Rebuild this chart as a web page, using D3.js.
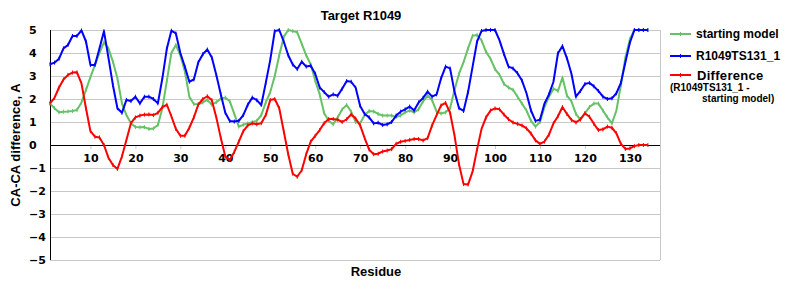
<!DOCTYPE html>
<html>
<head>
<meta charset="utf-8">
<script src="https://cdn.jsdelivr.net/npm/d3@7"></script>
<style>
  html, body { margin: 0; padding: 0; background: #fff; }
  svg { display: block; }
</style>
</head>
<body>
<svg id="chart" width="800" height="300"></svg>
<script>
const residues = d3.range(1, 135);
const startingModel = [
  1.81,1.6,1.42,1.45,1.46,1.48,1.52,1.85,2.4,2.95,
  3.48,4.0,4.46,4.2,3.62,2.9,1.81,1.3,0.95,0.78,
  0.77,0.78,0.7,0.72,0.87,1.6,2.8,4.0,4.35,3.9,
  3.2,2.1,1.78,1.77,1.85,1.96,1.75,1.86,2.02,2.06,
  1.9,1.35,0.8,0.88,0.94,0.99,1.05,1.3,1.85,2.3,
  3.0,3.9,4.7,5.0,4.95,4.9,4.4,3.9,3.5,2.8,
  2.2,1.38,1.05,0.9,1.2,1.55,1.74,1.45,1.0,0.95,
  1.3,1.48,1.46,1.35,1.28,1.28,1.28,1.22,1.28,1.42,
  1.5,1.42,1.55,1.9,2.15,1.95,1.45,1.37,1.42,1.6,
  2.4,3.1,3.6,4.2,4.75,4.78,4.55,4.05,3.75,3.3,
  3.05,2.65,2.5,2.4,2.1,1.8,1.5,1.05,0.8,1.0,
  1.65,2.1,2.45,2.35,2.93,2.15,1.9,1.35,1.09,1.38,
  1.65,1.8,1.8,1.5,1.2,0.94,1.5,2.6,3.8,4.6,
  5.0,5.0,5.0,5.0
];
const modelTS131 = [
  3.51,3.58,3.75,4.2,4.35,4.74,4.74,4.98,4.5,3.48,
  3.48,4.2,4.95,3.8,2.6,1.6,1.4,1.96,1.91,2.1,
  1.81,2.1,2.1,2.0,1.81,2.9,4.2,4.97,4.85,4.0,
  3.4,2.75,2.85,3.6,3.95,4.15,3.8,3.04,2.2,1.4,
  1.04,1.02,1.05,1.3,1.75,2.06,1.95,1.74,2.7,3.7,
  4.95,5.0,4.5,3.9,3.5,3.3,3.62,3.41,3.45,3.1,
  2.5,2.3,2.1,2.2,2.14,2.45,2.78,2.75,2.49,1.7,
  1.35,1.2,0.94,0.97,0.87,0.9,1.0,1.28,1.45,1.55,
  1.67,1.5,1.85,2.05,2.32,2.1,2.2,2.9,3.41,3.33,
  2.3,1.6,1.48,2.3,3.4,4.49,4.96,5.0,5.0,5.0,
  4.55,3.95,3.41,3.33,3.12,2.8,2.25,1.5,1.05,1.1,
  1.8,2.2,2.75,3.99,4.3,3.77,3.1,2.1,2.35,2.65,
  2.7,2.55,2.35,2.1,2.0,2.03,2.25,2.7,3.6,4.45,
  5.0,5.0,5.0,5.0
];
const difference = [
  1.81,2.05,2.5,2.85,3.05,3.15,3.16,2.68,1.6,0.6,
  0.36,0.33,0.0,-0.55,-0.87,-1.04,-0.5,0.22,0.95,1.2,
  1.28,1.32,1.33,1.3,1.4,1.65,1.75,1.25,0.7,0.4,
  0.4,0.75,1.2,1.76,2.0,2.12,1.95,1.2,0.3,-0.5,
  -0.65,-0.3,0.15,0.6,0.85,0.94,0.9,0.95,1.3,1.96,
  2.0,1.6,0.6,-0.4,-1.25,-1.38,-1.1,-0.4,0.15,0.4,
  0.65,0.95,1.13,1.13,1.1,1.0,1.12,1.33,1.15,0.85,
  0.3,-0.2,-0.4,-0.38,-0.28,-0.24,-0.18,0.05,0.14,0.18,
  0.22,0.26,0.26,0.2,0.3,0.85,1.3,1.72,1.83,1.4,
  0.4,-0.85,-1.7,-1.72,-1.16,-0.2,0.7,1.2,1.5,1.59,
  1.55,1.32,1.12,0.98,0.92,0.85,0.72,0.5,0.2,0.05,
  0.15,0.45,0.94,1.25,1.65,1.35,1.09,0.98,1.12,1.38,
  1.23,0.92,0.65,0.68,0.8,0.75,0.51,0.05,-0.17,-0.15,
  -0.05,0.0,0.0,0.0
];
const xTicks = [10,20,30,40,50,60,70,80,90,100,110,120,130];
const yTicks = [-5,-4,-3,-2,-1,0,1,2,3,4,5];
const seriesNames = ["starting model", "R1049TS131_1", "Difference"];
const seriesColors = ["#66c266", "#0000ff", "#ff0000"];
const titleText = "Target R1049";
const xTitle = "Residue";
const yTitle = "CA-CA difference, A";

const svg = d3.select("#chart");
const L = 50, R = 660, T = 30, B = 260;
const x = d3.scaleLinear().domain([1, 136.7]).range([L, R]);
const y = d3.scaleLinear().domain([-5, 5]).range([B, T]);

// gridlines
svg.append("g").selectAll("line").data(yTicks).join("line")
  .attr("x1", L).attr("x2", R)
  .attr("y1", d => y(d)).attr("y2", d => y(d))
  .attr("stroke", "#c8c8c8").attr("stroke-width", 1)
  .attr("shape-rendering", "crispEdges");
// right border
svg.append("line").attr("x1", R).attr("x2", R).attr("y1", T).attr("y2", B)
  .attr("stroke", "#c8c8c8").attr("shape-rendering", "crispEdges");

// y axis (line + left-aligned labels)
svg.append("line").attr("x1", L).attr("x2", L).attr("y1", T).attr("y2", B)
  .attr("stroke", "#000").attr("shape-rendering", "crispEdges");
svg.append("g").selectAll("text").data(yTicks).join("text")
  .attr("x", 29).attr("y", d => y(d)).attr("dy", "0.36em")
  .attr("font-family", "DejaVu Sans").attr("font-weight", "bold").attr("font-size", 11)
  .attr("text-anchor", "start")
  .text(d => d < 0 ? "\u2212" + Math.abs(d) : d);

// x axis at zero
const xAxis = d3.axisBottom(x).tickValues(xTicks).tickSize(4).tickPadding(5).tickFormat(d3.format("d"));
const gx = svg.append("g").attr("transform", `translate(0,${y(0)})`).call(xAxis);
gx.select(".domain").remove();
gx.selectAll(".tick line").attr("stroke", "#c8c8c8");
gx.selectAll(".tick text").attr("font-family", "DejaVu Sans").attr("font-weight", "bold")
  .attr("font-size", 11).attr("fill", "#000");
svg.append("line").attr("x1", L).attr("x2", R).attr("y1", y(0)).attr("y2", y(0))
  .attr("stroke", "#000").attr("shape-rendering", "crispEdges");

// lines
const allSeries = [startingModel, modelTS131, difference];
const lineGen = d3.line().x((d, i) => x(residues[i])).y(d => y(d));
allSeries.forEach((s, k) => {
  svg.append("path").datum(s)
    .attr("fill", "none").attr("stroke", seriesColors[k]).attr("stroke-width", 2)
    .attr("stroke-linejoin", "round").attr("d", lineGen);
  svg.append("g").selectAll("line").data(s).join("line")
    .attr("x1", (d, i) => x(residues[i])).attr("x2", (d, i) => x(residues[i]))
    .attr("y1", d => y(d) - 2).attr("y2", d => y(d) + 2)
    .attr("stroke", seriesColors[k]).attr("stroke-width", 1);
});

// titles
const font = "Liberation Sans, Arial, sans-serif";
svg.append("text").attr("x", 361).attr("y", 20).attr("text-anchor", "middle")
  .attr("font-family", font).attr("font-weight", "bold").attr("font-size", 13).text(titleText);
svg.append("text").attr("x", 376).attr("y", 276).attr("text-anchor", "middle")
  .attr("font-family", font).attr("font-weight", "bold").attr("font-size", 13).text(xTitle);
svg.append("text").attr("transform", "translate(20,145) rotate(-90)").attr("text-anchor", "middle")
  .attr("font-family", font).attr("font-weight", "bold").attr("font-size", 13).text(yTitle);

// legend
const legY = [34, 56, 75];
const leg = svg.append("g");
seriesNames.forEach((name, k) => {
  leg.append("line").attr("x1", 670).attr("x2", 691).attr("y1", legY[k]).attr("y2", legY[k])
    .attr("stroke", seriesColors[k]).attr("stroke-width", 2);
  leg.append("line").attr("x1", 680.5).attr("x2", 680.5).attr("y1", legY[k] - 2).attr("y2", legY[k] + 2)
    .attr("stroke", seriesColors[k]).attr("stroke-width", 1);
  leg.append("text").attr("x", k === 2 ? 697 : 696).attr("y", legY[k]).attr("dy", "0.36em")
    .attr("font-family", font).attr("font-weight", "bold").attr("font-size", k === 2 ? 13 : 12)
    .attr("letter-spacing", k === 2 ? 0.3 : 0).text(name);
});
leg.append("text").attr("x", 670).attr("y", 87).attr("dy", "0.36em")
  .attr("font-family", font).attr("font-weight", "bold").attr("font-size", 10)
  .text("(R1049TS131_1 -");
leg.append("text").attr("x", 702).attr("y", 98).attr("dy", "0.36em")
  .attr("font-family", font).attr("font-weight", "bold").attr("font-size", 10)
  .text("starting model)");
</script>
</body>
</html>
